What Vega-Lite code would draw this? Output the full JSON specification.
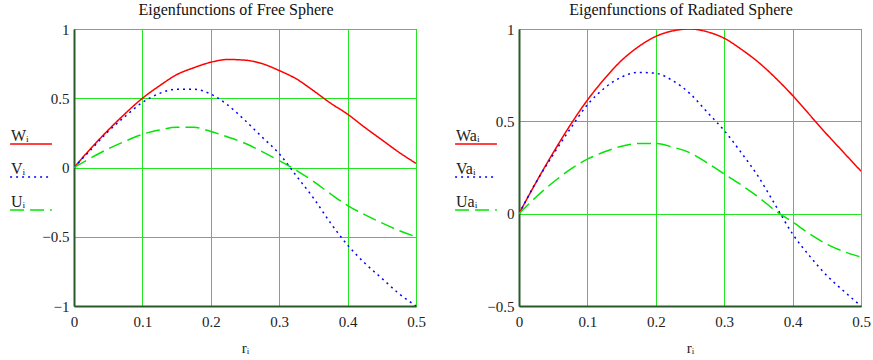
{
  "$schema": "https://vega.github.io/schema/vega-lite/v6.json",
  "background": "white",
  "padding": {"left": 8, "top": 1, "right": 5, "bottom": 5},
  "datasets": {
    "free": [
      {"s":"W","r":0,"v":0},{"s":"W","r":0.025,"v":0.14},{"s":"W","r":0.05,"v":0.27},{"s":"W","r":0.075,"v":0.39},{"s":"W","r":0.1,"v":0.5},{"s":"W","r":0.125,"v":0.59},{"s":"W","r":0.15,"v":0.67},{"s":"W","r":0.175,"v":0.72},{"s":"W","r":0.2,"v":0.76},{"s":"W","r":0.225,"v":0.78},{"s":"W","r":0.25,"v":0.775},{"s":"W","r":0.275,"v":0.75},{"s":"W","r":0.3,"v":0.7},{"s":"W","r":0.325,"v":0.64},{"s":"W","r":0.35,"v":0.555},{"s":"W","r":0.375,"v":0.465},{"s":"W","r":0.4,"v":0.385},{"s":"W","r":0.425,"v":0.29},{"s":"W","r":0.45,"v":0.2},{"s":"W","r":0.475,"v":0.11},{"s":"W","r":0.5,"v":0.03},
      {"s":"V","r":0,"v":0},{"s":"V","r":0.025,"v":0.13},{"s":"V","r":0.05,"v":0.26},{"s":"V","r":0.075,"v":0.37},{"s":"V","r":0.1,"v":0.47},{"s":"V","r":0.125,"v":0.535},{"s":"V","r":0.15,"v":0.565},{"s":"V","r":0.175,"v":0.565},{"s":"V","r":0.2,"v":0.53},{"s":"V","r":0.225,"v":0.45},{"s":"V","r":0.25,"v":0.34},{"s":"V","r":0.275,"v":0.22},{"s":"V","r":0.3,"v":0.1},{"s":"V","r":0.325,"v":-0.06},{"s":"V","r":0.35,"v":-0.22},{"s":"V","r":0.375,"v":-0.4},{"s":"V","r":0.4,"v":-0.56},{"s":"V","r":0.425,"v":-0.69},{"s":"V","r":0.45,"v":-0.8},{"s":"V","r":0.475,"v":-0.91},{"s":"V","r":0.5,"v":-1.0},
      {"s":"U","r":0,"v":0},{"s":"U","r":0.025,"v":0.07},{"s":"U","r":0.05,"v":0.135},{"s":"U","r":0.075,"v":0.19},{"s":"U","r":0.1,"v":0.24},{"s":"U","r":0.125,"v":0.27},{"s":"U","r":0.15,"v":0.29},{"s":"U","r":0.175,"v":0.29},{"s":"U","r":0.2,"v":0.26},{"s":"U","r":0.225,"v":0.22},{"s":"U","r":0.25,"v":0.175},{"s":"U","r":0.275,"v":0.115},{"s":"U","r":0.3,"v":0.05},{"s":"U","r":0.325,"v":-0.02},{"s":"U","r":0.35,"v":-0.1},{"s":"U","r":0.375,"v":-0.19},{"s":"U","r":0.4,"v":-0.275},{"s":"U","r":0.425,"v":-0.34},{"s":"U","r":0.45,"v":-0.4},{"s":"U","r":0.475,"v":-0.455},{"s":"U","r":0.5,"v":-0.5}
    ],
    "rad": [
      {"s":"Wa","r":0,"v":0},{"s":"Wa","r":0.025,"v":0.17},{"s":"Wa","r":0.05,"v":0.33},{"s":"Wa","r":0.075,"v":0.48},{"s":"Wa","r":0.1,"v":0.615},{"s":"Wa","r":0.125,"v":0.73},{"s":"Wa","r":0.15,"v":0.83},{"s":"Wa","r":0.175,"v":0.905},{"s":"Wa","r":0.2,"v":0.96},{"s":"Wa","r":0.225,"v":0.99},{"s":"Wa","r":0.25,"v":1.0},{"s":"Wa","r":0.275,"v":0.985},{"s":"Wa","r":0.3,"v":0.95},{"s":"Wa","r":0.325,"v":0.89},{"s":"Wa","r":0.35,"v":0.82},{"s":"Wa","r":0.375,"v":0.735},{"s":"Wa","r":0.4,"v":0.64},{"s":"Wa","r":0.425,"v":0.535},{"s":"Wa","r":0.45,"v":0.43},{"s":"Wa","r":0.475,"v":0.33},{"s":"Wa","r":0.5,"v":0.23},
      {"s":"Va","r":0,"v":0},{"s":"Va","r":0.025,"v":0.17},{"s":"Va","r":0.05,"v":0.32},{"s":"Va","r":0.075,"v":0.46},{"s":"Va","r":0.1,"v":0.59},{"s":"Va","r":0.125,"v":0.68},{"s":"Va","r":0.15,"v":0.74},{"s":"Va","r":0.175,"v":0.765},{"s":"Va","r":0.2,"v":0.76},{"s":"Va","r":0.225,"v":0.72},{"s":"Va","r":0.25,"v":0.65},{"s":"Va","r":0.275,"v":0.55},{"s":"Va","r":0.3,"v":0.45},{"s":"Va","r":0.325,"v":0.33},{"s":"Va","r":0.35,"v":0.2},{"s":"Va","r":0.375,"v":0.045},{"s":"Va","r":0.4,"v":-0.11},{"s":"Va","r":0.425,"v":-0.23},{"s":"Va","r":0.45,"v":-0.335},{"s":"Va","r":0.475,"v":-0.42},{"s":"Va","r":0.5,"v":-0.5},
      {"s":"Ua","r":0,"v":0},{"s":"Ua","r":0.025,"v":0.09},{"s":"Ua","r":0.05,"v":0.17},{"s":"Ua","r":0.075,"v":0.24},{"s":"Ua","r":0.1,"v":0.295},{"s":"Ua","r":0.125,"v":0.335},{"s":"Ua","r":0.15,"v":0.365},{"s":"Ua","r":0.175,"v":0.38},{"s":"Ua","r":0.2,"v":0.38},{"s":"Ua","r":0.225,"v":0.36},{"s":"Ua","r":0.25,"v":0.33},{"s":"Ua","r":0.275,"v":0.275},{"s":"Ua","r":0.3,"v":0.215},{"s":"Ua","r":0.325,"v":0.155},{"s":"Ua","r":0.35,"v":0.09},{"s":"Ua","r":0.375,"v":0.015},{"s":"Ua","r":0.4,"v":-0.045},{"s":"Ua","r":0.425,"v":-0.11},{"s":"Ua","r":0.45,"v":-0.165},{"s":"Ua","r":0.475,"v":-0.205},{"s":"Ua","r":0.5,"v":-0.235}
    ]
  },
  "spacing": 103,
  "bounds": "flush",
  "resolve": {"scale": {"color": "independent", "strokeDash": "independent", "y": "independent"}, "legend": {"color": "independent", "strokeDash": "independent"}},
  "hconcat": [
    {
      "width": 342,
      "height": 277,
      "data": {"name": "free"},
      "title": {"text": "Eigenfunctions of Free Sphere", "dx": -9},
      "mark": {"type": "line", "strokeWidth": 1.5, "interpolate": "monotone", "clip": true},
      "encoding": {
        "x": {"field": "r", "type": "quantitative", "scale": {"domain": [0, 0.5], "nice": false},
              "axis": {"values": [0, 0.1, 0.2, 0.3, 0.4, 0.5], "title": "rᵢ"}},
        "y": {"field": "v", "type": "quantitative", "scale": {"domain": [-1, 1], "nice": false},
              "axis": {"values": [-1, -0.5, 0, 0.5, 1], "title": null}},
        "color": {"field": "s", "type": "nominal",
                  "scale": {"domain": ["W", "V", "U"], "range": ["#ff0000", "#0000ff", "#00e600"]},
                  "legend": {"orient": "none", "legendX": -65, "legendY": 93, "title": null, "symbolSize": 1750, "labelOffset": -42, "labelExpr": "datum.label + 'ᵢ'"}},
        "strokeDash": {"field": "s", "type": "nominal",
                  "scale": {"domain": ["W", "V", "U"], "range": [[1, 0], [2, 4], [14, 6]]},
                  "legend": {"orient": "none", "legendX": -65, "legendY": 93, "title": null, "symbolSize": 1750, "labelOffset": -42, "labelExpr": "datum.label + 'ᵢ'"}}
      }
    },
    {
      "width": 342,
      "height": 277,
      "data": {"name": "rad"},
      "title": {"text": "Eigenfunctions of Radiated Sphere", "dx": -9},
      "mark": {"type": "line", "strokeWidth": 1.5, "interpolate": "monotone", "clip": true},
      "encoding": {
        "x": {"field": "r", "type": "quantitative", "scale": {"domain": [0, 0.5], "nice": false},
              "axis": {"values": [0, 0.1, 0.2, 0.3, 0.4, 0.5], "title": "rᵢ"}},
        "y": {"field": "v", "type": "quantitative", "scale": {"domain": [-0.5, 1], "nice": false},
              "axis": {"values": [-0.5, 0, 0.5, 1], "title": null}},
        "color": {"field": "s", "type": "nominal",
                  "scale": {"domain": ["Wa", "Va", "Ua"], "range": ["#ff0000", "#0000ff", "#00e600"]},
                  "legend": {"orient": "none", "legendX": -65, "legendY": 93, "title": null, "symbolSize": 1750, "labelOffset": -42, "labelExpr": "datum.label + 'ᵢ'"}},
        "strokeDash": {"field": "s", "type": "nominal",
                  "scale": {"domain": ["Wa", "Va", "Ua"], "range": [[1, 0], [2, 4], [14, 6]]},
                  "legend": {"orient": "none", "legendX": -65, "legendY": 93, "title": null, "symbolSize": 1750, "labelOffset": -42, "labelExpr": "datum.label + 'ᵢ'"}}
      }
    }
  ],
  "config": {
    "font": "Liberation Serif, Times New Roman, serif",
    "view": {"stroke": "#2f3f2f", "strokeWidth": 1},
    "title": {"font": "Liberation Serif, Times New Roman, serif", "fontSize": 16, "fontWeight": "normal", "color": "#111", "offset": 4},
    "axis": {
      "labelFont": "Liberation Serif, Times New Roman, serif", "labelFontSize": 15, "labelColor": "#222",
      "titleFont": "Liberation Serif, Times New Roman, serif", "titleFontSize": 15, "titleFontWeight": "normal", "titleColor": "#222",
      "grid": true, "gridColor": "#22e622", "gridOpacity": 1, "gridWidth": 1,
      "domainColor": "#2a5a2a", "domainWidth": 2,
      "ticks": false, "labelFlush": false,
      "labelExpr": "replace(format(datum.value, '.2~f'), '-', '−')"
    },
    "axisX": {"labelPadding": 8, "titlePadding": 11},
    "axisY": {"labelPadding": 5},
    "legend": {
      "symbolType": "stroke", "symbolStrokeWidth": 1.5,
      "labelFont": "Liberation Serif, Times New Roman, serif", "labelFontSize": 16, "labelColor": "#222",
      "labelBaseline": "bottom", "rowPadding": 8, "padding": 0
    }
  }
}
